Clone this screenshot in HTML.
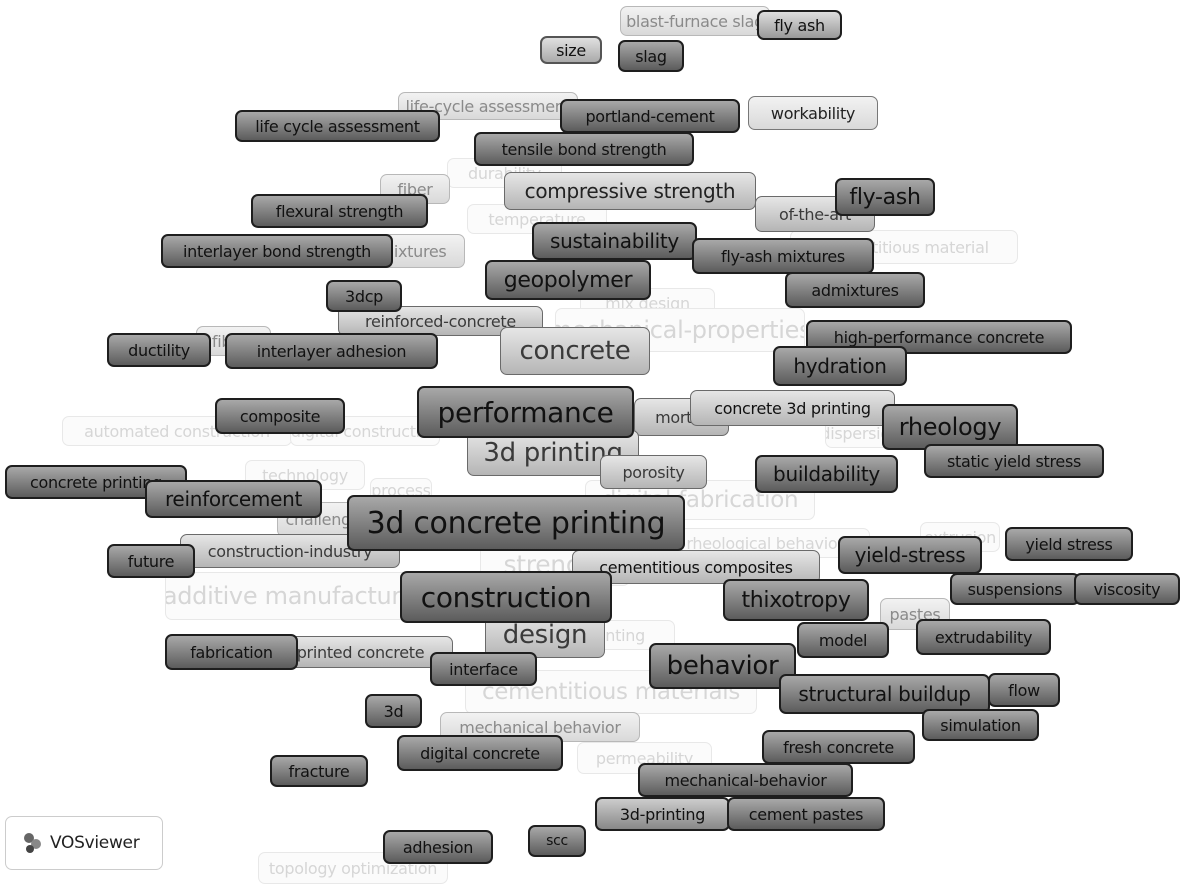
<!DOCTYPE html>
<html><head><meta charset="utf-8"><style>
body{margin:0;width:1181px;height:891px;background:#fff;position:relative;overflow:hidden;font-family:"DejaVu Sans","Liberation Sans",sans-serif}
.b{position:absolute;box-sizing:border-box;border-radius:7px;display:flex;align-items:center;justify-content:center;white-space:nowrap;overflow:hidden;font-size:16px;letter-spacing:-0.3px}
.f{background:#fbfbfb;border:1.5px solid #e8e8e8;color:#d6d6d6}
.l{background:linear-gradient(#f2f2f2,#d9d9d9);border:1.5px solid #b8b8b8;color:#8a8a8a}
.m{background:linear-gradient(#e6e6e6,#b5b5b5);border:1.5px solid #6a6a6a;color:#3a3a3a}
.d{background:linear-gradient(#a8a8a8,#5c5c5c);border:2px solid #1e1e1e;color:#111}
</style></head><body>
<div class="b f" style="left:447px;top:158px;width:115px;height:30px">durability</div>
<div class="b f" style="left:467px;top:204px;width:140px;height:30px">temperature</div>
<div class="b f" style="left:790px;top:230px;width:228px;height:34px">cementitious material</div>
<div class="b f" style="left:580px;top:288px;width:135px;height:30px">mix design</div>
<div class="b f" style="left:555px;top:308px;width:250px;height:44px;font-size:24px">mechanical-properties</div>
<div class="b f" style="left:62px;top:416px;width:230px;height:30px">automated construction</div>
<div class="b f" style="left:290px;top:416px;width:150px;height:30px">digital construction</div>
<div class="b f" style="left:825px;top:418px;width:70px;height:30px">dispersion</div>
<div class="b f" style="left:245px;top:460px;width:120px;height:30px">technology</div>
<div class="b f" style="left:370px;top:478px;width:62px;height:25px">process</div>
<div class="b f" style="left:585px;top:480px;width:230px;height:40px;font-size:23px">digital fabrication</div>
<div class="b f" style="left:480px;top:542px;width:150px;height:44px;font-size:25px">strength</div>
<div class="b f" style="left:660px;top:528px;width:210px;height:30px">rheological behavior</div>
<div class="b f" style="left:920px;top:522px;width:80px;height:30px">extrusion</div>
<div class="b f" style="left:165px;top:572px;width:270px;height:48px;font-size:24px">additive manufacturing</div>
<div class="b f" style="left:555px;top:620px;width:120px;height:30px">printing</div>
<div class="b f" style="left:465px;top:670px;width:292px;height:44px;font-size:23px">cementitious materials</div>
<div class="b f" style="left:577px;top:742px;width:135px;height:32px">permeability</div>
<div class="b f" style="left:258px;top:852px;width:190px;height:32px">topology optimization</div>

<div class="b l" style="left:620px;top:6px;width:150px;height:30px">blast-furnace slag</div>
<div class="b l" style="left:398px;top:92px;width:180px;height:28px">life-cycle assessment</div>
<div class="b l" style="left:380px;top:174px;width:70px;height:30px">fiber</div>
<div class="b l" style="left:360px;top:234px;width:105px;height:34px">mixtures</div>
<div class="b l" style="left:196px;top:326px;width:75px;height:30px">fibers</div>
<div class="b l" style="left:277px;top:502px;width:100px;height:35px">challenges</div>
<div class="b l" style="left:880px;top:598px;width:70px;height:32px">pastes</div>
<div class="b l" style="left:440px;top:712px;width:200px;height:30px">mechanical behavior</div>
<div class="b l" style="left:748px;top:96px;width:130px;height:34px;color:#222;border-color:#777">workability</div>

<div class="b m" style="left:338px;top:306px;width:205px;height:30px">reinforced-concrete</div>
<div class="b m" style="left:500px;top:327px;width:150px;height:48px;font-size:26px">concrete</div>
<div class="b m" style="left:634px;top:398px;width:95px;height:38px">mortar</div>
<div class="b m" style="left:690px;top:390px;width:205px;height:36px;color:#111">concrete 3d printing</div>
<div class="b m" style="left:467px;top:430px;width:172px;height:46px;font-size:26px">3d printing</div>
<div class="b m" style="left:600px;top:455px;width:107px;height:34px">porosity</div>
<div class="b m" style="left:180px;top:534px;width:220px;height:34px">construction-industry</div>
<div class="b m" style="left:485px;top:612px;width:120px;height:46px;font-size:26px">design</div>
<div class="b m" style="left:268px;top:636px;width:185px;height:32px">printed concrete</div>
<div class="b m" style="left:504px;top:172px;width:252px;height:38px;font-size:20px;color:#222">compressive strength</div>
<div class="b m" style="left:755px;top:196px;width:120px;height:36px">of-the-art</div>
<div class="b m" style="left:572px;top:550px;width:248px;height:34px;color:#111">cementitious composites</div>

<div class="b d" style="left:540px;top:36px;width:62px;height:28px;background:linear-gradient(#e0e0e0,#aaa);border-color:#555">size</div>
<div class="b d" style="left:618px;top:40px;width:66px;height:32px">slag</div>
<div class="b d" style="left:757px;top:10px;width:85px;height:30px;background:linear-gradient(#ddd,#999)">fly ash</div>
<div class="b d" style="left:235px;top:110px;width:205px;height:32px">life cycle assessment</div>
<div class="b d" style="left:560px;top:99px;width:180px;height:34px">portland-cement</div>
<div class="b d" style="left:474px;top:132px;width:220px;height:34px">tensile bond strength</div>
<div class="b d" style="left:835px;top:178px;width:100px;height:38px;font-size:22px">fly-ash</div>
<div class="b d" style="left:251px;top:194px;width:177px;height:34px">flexural strength</div>
<div class="b d" style="left:161px;top:234px;width:232px;height:34px">interlayer bond strength</div>
<div class="b d" style="left:532px;top:222px;width:165px;height:38px;font-size:20px">sustainability</div>
<div class="b d" style="left:692px;top:238px;width:182px;height:36px">fly-ash mixtures</div>
<div class="b d" style="left:485px;top:260px;width:166px;height:40px;font-size:22px">geopolymer</div>
<div class="b d" style="left:785px;top:272px;width:140px;height:36px">admixtures</div>
<div class="b d" style="left:326px;top:280px;width:76px;height:32px">3dcp</div>
<div class="b d" style="left:107px;top:333px;width:104px;height:34px">ductility</div>
<div class="b d" style="left:225px;top:333px;width:213px;height:36px">interlayer adhesion</div>
<div class="b d" style="left:806px;top:320px;width:266px;height:34px">high-performance concrete</div>
<div class="b d" style="left:773px;top:346px;width:134px;height:40px;font-size:20px">hydration</div>
<div class="b d" style="left:215px;top:398px;width:130px;height:36px">composite</div>
<div class="b d" style="left:417px;top:386px;width:217px;height:52px;font-size:28px">performance</div>
<div class="b d" style="left:882px;top:404px;width:136px;height:46px;font-size:24px">rheology</div>
<div class="b d" style="left:924px;top:444px;width:180px;height:34px">static yield stress</div>
<div class="b d" style="left:755px;top:455px;width:143px;height:38px;font-size:20px">buildability</div>
<div class="b d" style="left:5px;top:465px;width:182px;height:34px">concrete printing</div>
<div class="b d" style="left:145px;top:480px;width:177px;height:38px;font-size:20px">reinforcement</div>
<div class="b d" style="left:347px;top:495px;width:338px;height:56px;font-size:30px">3d concrete printing</div>
<div class="b d" style="left:1005px;top:527px;width:128px;height:34px">yield stress</div>
<div class="b d" style="left:838px;top:536px;width:144px;height:38px;font-size:20px">yield-stress</div>
<div class="b d" style="left:107px;top:544px;width:88px;height:34px">future</div>
<div class="b d" style="left:950px;top:573px;width:130px;height:32px">suspensions</div>
<div class="b d" style="left:1074px;top:573px;width:106px;height:32px">viscosity</div>
<div class="b d" style="left:400px;top:571px;width:212px;height:52px;font-size:28px">construction</div>
<div class="b d" style="left:723px;top:579px;width:146px;height:42px;font-size:22px">thixotropy</div>
<div class="b d" style="left:916px;top:619px;width:135px;height:36px">extrudability</div>
<div class="b d" style="left:797px;top:622px;width:92px;height:36px">model</div>
<div class="b d" style="left:165px;top:634px;width:133px;height:36px">fabrication</div>
<div class="b d" style="left:430px;top:652px;width:107px;height:34px">interface</div>
<div class="b d" style="left:649px;top:643px;width:147px;height:46px;font-size:26px">behavior</div>
<div class="b d" style="left:988px;top:673px;width:72px;height:34px">flow</div>
<div class="b d" style="left:779px;top:674px;width:211px;height:40px;font-size:20px">structural buildup</div>
<div class="b d" style="left:922px;top:709px;width:117px;height:32px">simulation</div>
<div class="b d" style="left:365px;top:694px;width:57px;height:34px">3d</div>
<div class="b d" style="left:397px;top:735px;width:166px;height:36px">digital concrete</div>
<div class="b d" style="left:762px;top:730px;width:153px;height:34px">fresh concrete</div>
<div class="b d" style="left:270px;top:755px;width:98px;height:32px">fracture</div>
<div class="b d" style="left:638px;top:763px;width:215px;height:34px">mechanical-behavior</div>
<div class="b d" style="left:595px;top:797px;width:135px;height:34px;background:linear-gradient(#ccc,#888)">3d-printing</div>
<div class="b d" style="left:727px;top:797px;width:158px;height:34px">cement pastes</div>
<div class="b d" style="left:383px;top:830px;width:110px;height:34px">adhesion</div>
<div class="b d" style="left:528px;top:825px;width:58px;height:32px;font-size:14px">scc</div>

<div class="b" style="left:5px;top:816px;width:158px;height:54px;border:1.5px solid #ccc;background:#fff;color:#222;font-size:17px;justify-content:flex-start;padding-left:14px">
<svg width="26" height="26" viewBox="0 0 26 26" style="margin-right:4px"><circle cx="9" cy="8" r="5" fill="#666"/><circle cx="16" cy="14" r="5" fill="#888"/><circle cx="10" cy="19" r="4" fill="#444"/></svg>VOSviewer</div>
</body></html>
